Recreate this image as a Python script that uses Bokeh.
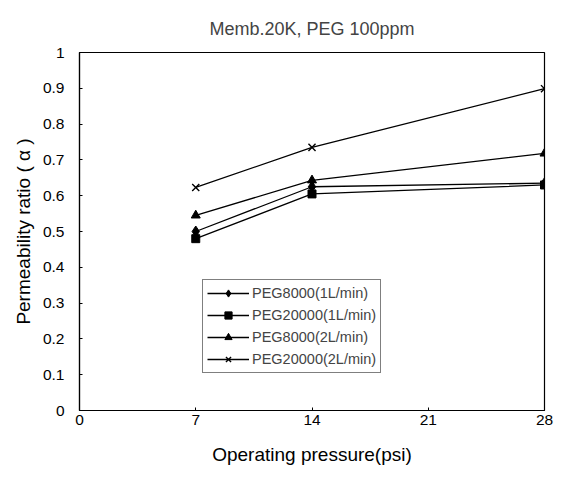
from bokeh.plotting import figure
from bokeh.models import FixedTicker, Legend, LegendItem, Range1d
from bokeh.embed import file_html
from bokeh.resources import INLINE

pressure = [7, 14, 28]
peg8000_1L = [0.50, 0.625, 0.635]
peg20000_1L = [0.48, 0.605, 0.630]
peg8000_2L = [0.545, 0.643, 0.718]
peg20000_2L = [0.623, 0.735, 0.899]
x_ticks = [0, 7, 14, 21, 28]
y_ticks = [0, 0.1, 0.2, 0.3, 0.4, 0.5, 0.6, 0.7, 0.8, 0.9, 1]

FONT = "Liberation Sans"

p = figure(width=556, height=474, output_backend="svg", toolbar_location=None,
           x_range=Range1d(0, 28), y_range=Range1d(0, 1),
           min_border_left=79, min_border_right=12, min_border_bottom=64, min_border_top=52,
           title="Memb.20K, PEG 100ppm")
p.title.align = "center"
p.title.text_font = FONT
p.title.text_font_size = "18px"
p.title.text_font_style = "normal"
p.title.text_line_height = 1.0
p.title.offset = 0
p.title.standoff = 28
p.grid.visible = False
p.outline_line_color = "black"
p.outline_line_width = 1.2
p.background_fill_color = "white"
p.border_fill_color = "white"

p.xaxis.ticker = FixedTicker(ticks=x_ticks)
p.yaxis.ticker = FixedTicker(ticks=y_ticks)
p.yaxis.major_label_overrides = {0: "0", 1: "1"}
for ax in (p.xaxis[0], p.yaxis[0]):
    ax.axis_line_color = "black"
    ax.axis_line_width = 1.2
    ax.major_tick_in = 3
    ax.major_tick_out = 0
    ax.minor_tick_line_color = None
    ax.major_label_text_font = FONT
    ax.major_label_text_font_size = "15.5px"
    ax.major_label_text_color = "black"
    ax.axis_label_text_font = FONT
    ax.axis_label_text_font_size = "19px"
    ax.axis_label_text_font_style = "normal"
    ax.axis_label_text_color = "black"
p.xaxis.axis_label = "Operating pressure(psi)"
p.yaxis.axis_label = "Permeability ratio ( α )"
p.xaxis.major_label_standoff = 4
p.yaxis.major_label_standoff = 15
p.xaxis.axis_label_standoff = 16
p.yaxis.axis_label_standoff = 6

items = []
r1 = p.line(pressure, peg8000_1L, line_color="black", line_width=1.3)
m1 = p.scatter(pressure, peg8000_1L, marker="diamond", size=11, color="black")
items.append(LegendItem(label="PEG8000(1L/min)", renderers=[r1, m1]))
r2 = p.line(pressure, peg20000_1L, line_color="black", line_width=1.3)
m2 = p.scatter(pressure, peg20000_1L, marker="square", size=8, color="black")
items.append(LegendItem(label="PEG20000(1L/min)", renderers=[r2, m2]))
r3 = p.line(pressure, peg8000_2L, line_color="black", line_width=1.3)
m3 = p.scatter(pressure, peg8000_2L, marker="triangle", size=9, color="black")
items.append(LegendItem(label="PEG8000(2L/min)", renderers=[r3, m3]))
r4 = p.line(pressure, peg20000_2L, line_color="black", line_width=1.3)
m4 = p.scatter(pressure, peg20000_2L, marker="x", size=10, color="black", line_width=1.4)
items.append(LegendItem(label="PEG20000(2L/min)", renderers=[r4, m4]))

legend = Legend(items=items, location=(123, 37))
legend.border_line_color = "black"
legend.border_line_width = 1.2
legend.background_fill_alpha = 1
legend.label_text_font = FONT
legend.label_text_font_size = "14.5px"
legend.glyph_width = 42
legend.glyph_height = 18
legend.label_height = 18
legend.spacing = 4
legend.padding = 4
legend.margin = 0
legend.label_standoff = 3
p.add_layout(legend, "center")

open("out.html", "w").write(file_html(p, INLINE))
